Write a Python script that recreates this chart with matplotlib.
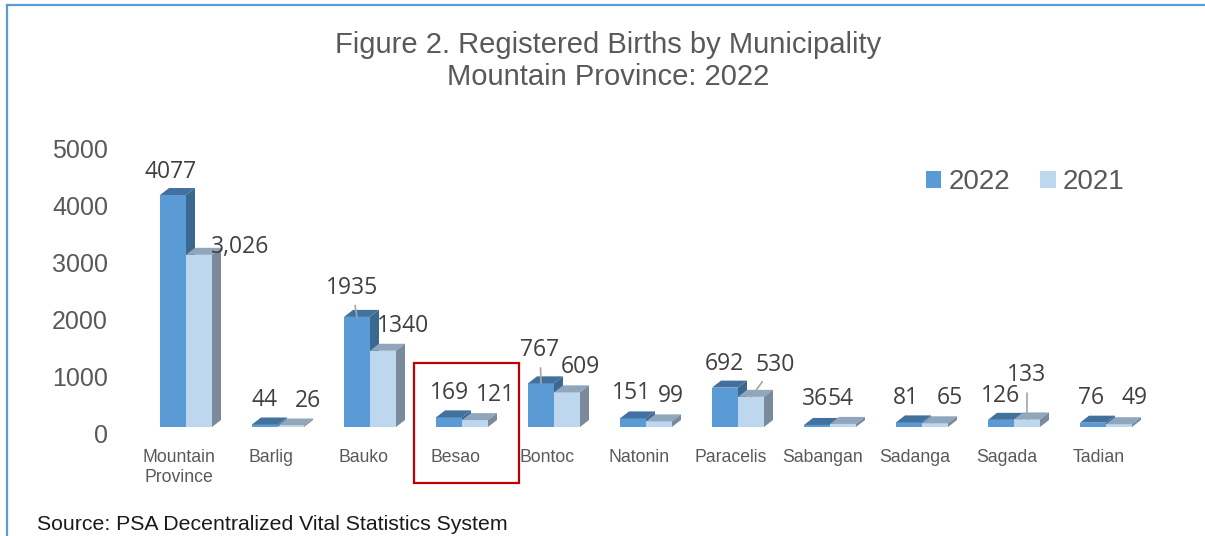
"""Figure 2. Registered births by municipality, Mountain Province 2022 vs 2021."""

import matplotlib
matplotlib.use("Agg")
import matplotlib.pyplot as plt
import matplotlib.transforms as mtransforms
from matplotlib.patches import Polygon, Rectangle, Patch
from matplotlib.lines import Line2D

# data
municipalities = ["Mountain\nProvince", "Barlig", "Bauko", "Besao", "Bontoc",
                  "Natonin", "Paracelis", "Sabangan", "Sadanga", "Sagada",
                  "Tadian"]
births_2022 = [4077, 44, 1935, 169, 767, 151, 692, 36, 81, 126, 76]
births_2021 = [3026, 26, 1340, 121, 609, 99, 530, 54, 65, 133, 49]
labels_2021 = ["3,026", "26", "1340", "121", "609", "99", "530", "54", "65",
               "133", "49"]
y_ticks = [0, 1000, 2000, 3000, 4000, 5000]
highlighted = "Besao"

# label nudges in pixels (dx, dy up from bar top), as placed in the original
nudge_2022 = [(-2, 23), (-1, 24), (-5, 29), (0, 24), (-1, 33), (-2, 25),
              (-1, 24), (-2, 26), (-3, 24), (0, 24), (-2, 25)]
nudge_2021 = [(41, 8), (17, 25), (20, 25), (20, 25), (13, 25), (12, 25),
              (24, 32), (-2, 25), (15, 25), (0, 44), (15, 26)]
leader_2022 = {2, 4}   # Bauko, Bontoc
leader_2021 = {6, 9}   # Paracelis, Sagada

# colours
front_22, top_22, side_22 = "#5B9BD5", "#41719C", "#3B6890"
front_21, top_21, side_21 = "#BDD7EE", "#8FA6BC", "#7A8A9A"
grey_text = "#595959"
label_text = "#404040"

plt.rcParams["font.family"] = ["Liberation Sans", "DejaVu Sans"]

W, H = 1205, 536
fig = plt.figure(figsize=(W / 100, H / 100), dpi=100)

# plot area placed so categories sit ~92 px apart, zero line at y=427 px
ax = fig.add_axes([140 / W, 1 - 427 / H, 1012 / W, 284.5 / H])
ax.set_xlim(-0.5, len(municipalities) - 0.5)
ax.set_ylim(0, 5000)
for s in ax.spines.values():
    s.set_visible(False)

px_x = 1012 / len(municipalities)   # pixels per category
px_y = 284.5 / 5000                 # pixels per birth
bar_w = 26 / px_x
depth_x = 9 / px_x
depth_y = 7 / px_y


def draw_bar(x0, value, front, top, side, z):
    """front face via ax.bar, plus top and side faces for the 3D look"""
    ax.bar(x0, value, width=bar_w, align="edge", color=front,
           linewidth=0, zorder=z, clip_on=False)
    x1 = x0 + bar_w
    ax.add_patch(Polygon([(x0, value), (x1, value),
                          (x1 + depth_x, value + depth_y),
                          (x0 + depth_x, value + depth_y)],
                         closed=True, facecolor=top, edgecolor="none",
                         zorder=z, clip_on=False))
    ax.add_patch(Polygon([(x1, 0), (x1 + depth_x, depth_y),
                          (x1 + depth_x, value + depth_y), (x1, value)],
                         closed=True, facecolor=side, edgecolor="none",
                         zorder=z, clip_on=False))


def put_label(x, value, text, nudge, leader):
    kw = dict(textcoords="offset pixels", ha="center", va="center",
              fontsize=16.5, color=label_text, family="Open Sans",
              zorder=10, annotation_clip=False)
    if leader:
        kw["arrowprops"] = dict(arrowstyle="-", color="#A6A6A6", lw=1.2,
                                shrinkA=2, shrinkB=0)
    ax.annotate(text, xy=(x, value), xytext=nudge, **kw)


for i, name in enumerate(municipalities):
    draw_bar(i - bar_w, births_2022[i], front_22, top_22, side_22, 2)
    draw_bar(i, births_2021[i], front_21, top_21, side_21, 3)
    put_label(i - bar_w / 2, births_2022[i], str(births_2022[i]),
              nudge_2022[i], i in leader_2022)
    put_label(i + bar_w / 2, births_2021[i], labels_2021[i],
              nudge_2021[i], i in leader_2021)

# axes ticks
ax.set_yticks(y_ticks)
ax.set_yticklabels([str(t) for t in y_ticks], fontsize=18, color=grey_text)
ax.set_xticks(range(len(municipalities)))
ax.set_xticklabels(municipalities, fontsize=12.7, color=grey_text,
                   linespacing=1.3)
ax.tick_params(axis="both", length=0)
ax.tick_params(axis="y", pad=23)
ax.tick_params(axis="x", pad=15.5)
shift_y = mtransforms.ScaledTranslation(0, -6.5 / 100, fig.dpi_scale_trans)
for lab in ax.get_yticklabels():
    lab.set_transform(lab.get_transform() + shift_y)
shift_x = mtransforms.ScaledTranslation(-7 / 100, 0, fig.dpi_scale_trans)
for lab in ax.get_xticklabels():
    lab.set_transform(lab.get_transform() + shift_x)

# red box round the highlighted municipality
hi = municipalities.index(highlighted)
blend = mtransforms.blended_transform_factory(ax.transData, ax.transAxes)
ax.add_patch(Rectangle((hi - 0.52, -0.197), 1.14, 0.422, transform=blend,
                       fill=False, edgecolor="#C00000", linewidth=1.6,
                       clip_on=False, zorder=5))

# legend
handles = [Patch(facecolor=front_22, edgecolor="none", label="2022"),
           Patch(facecolor=front_21, edgecolor="none", label="2021")]
leg = fig.legend(handles=handles, loc="center left",
                 bbox_to_anchor=(926 / W, 1 - 182 / H), ncol=2,
                 frameon=False, fontsize=20, handlelength=0.55,
                 handleheight=0.55, handletextpad=0.25, columnspacing=1.1,
                 borderpad=0, borderaxespad=0)
for t in leg.get_texts():
    t.set_color(grey_text)

# title
fig.text(608 / W, 1 - 45 / H, "Figure 2. Registered Births by Municipality",
         ha="center", va="center", fontsize=21, color=grey_text)
fig.text(608 / W, 1 - 77 / H, "Mountain Province: 2022",
         ha="center", va="center", fontsize=21, color=grey_text)

# source note
fig.text(37 / W, 1 - 525 / H, "Source: PSA Decentralized Vital Statistics System",
         ha="left", va="center", fontsize=15.3, color="#1A1A1A")

# blue frame (top and left edges only)
fig.add_artist(Line2D([7 / W, 1], [1 - 5 / H, 1 - 5 / H], color="#5B9BD5",
                      lw=1.6, transform=fig.transFigure))
fig.add_artist(Line2D([7 / W, 7 / W], [0, 1 - 5 / H], color="#5B9BD5",
                      lw=1.6, transform=fig.transFigure))

fig.savefig("out.png", dpi=100)
